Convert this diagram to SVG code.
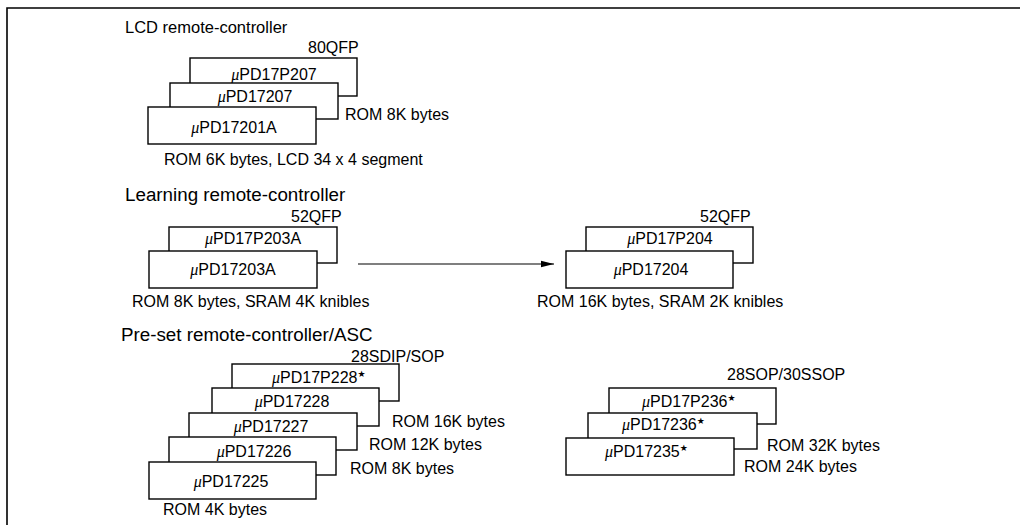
<svg xmlns="http://www.w3.org/2000/svg" width="1020" height="525" viewBox="0 0 1020 525">
<defs>
<style>
text{font-family:"Liberation Sans",Arial,sans-serif;font-size:16px;fill:#000}
.t{font-size:18.8px}
.lbl{text-anchor:middle}
.mu{font-family:"Liberation Serif","DejaVu Serif",serif;font-style:italic}
.st{font-family:"DejaVu Sans",sans-serif;font-size:9px}
.box{fill:#fff;stroke:#000;stroke-width:1.4}
.frame{fill:none;stroke:#000;stroke-width:1.6}
.conn{stroke:#000;stroke-width:1.1;fill:none}
</style>
<marker id="ah" markerWidth="14" markerHeight="8" refX="13" refY="4" orient="auto" markerUnits="userSpaceOnUse">
<path d="M0,0.8 L13,4 L0,7.2 Z" fill="#000"/>
</marker>
</defs>
<rect width="1020" height="525" fill="#fff"/>
<polyline class="frame" points="7,525 7,8 1020,8"/>

<g id="lcd-group">
<text x="125" y="33" style="font-size:16.5px">LCD remote-controller</text>
<text x="308" y="53">80QFP</text>
<g id="n-17P207"><rect class="box" x="190" y="58" width="167" height="38"/><text class="lbl" x="274" y="80"><tspan class="mu">μ</tspan>PD17P207</text></g>
<g id="n-17207"><rect class="box" x="170" y="83" width="168" height="36"/><text class="lbl" x="255" y="102"><tspan class="mu">μ</tspan>PD17207</text></g>
<g id="n-17201A"><rect class="box" x="148" y="107" width="168" height="37"/><text class="lbl" x="234" y="133"><tspan class="mu">μ</tspan>PD17201A</text></g>
<text x="345" y="120">ROM 8K bytes</text>
<text x="164" y="165">ROM 6K bytes, LCD 34 x 4 segment</text>
</g>

<g id="learning-group">
<text class="t" x="125" y="201">Learning remote-controller</text>
<text x="291" y="222">52QFP</text>
<g id="n-17P203A"><rect class="box" x="169" y="227" width="168" height="36"/><text class="lbl" x="253" y="244"><tspan class="mu">μ</tspan>PD17P203A</text></g>
<g id="n-17203A"><rect class="box" x="149" y="251" width="168" height="37"/><text class="lbl" x="233" y="275"><tspan class="mu">μ</tspan>PD17203A</text></g>
<text x="132" y="307">ROM 8K bytes, SRAM 4K knibles</text>
<text x="700" y="222">52QFP</text>
<g id="n-17P204"><rect class="box" x="586" y="227" width="167" height="36"/><text class="lbl" x="670" y="244"><tspan class="mu">μ</tspan>PD17P204</text></g>
<g id="n-17204"><rect class="box" x="566" y="251" width="167" height="37"/><text class="lbl" x="651" y="275"><tspan class="mu">μ</tspan>PD17204</text></g>
<text x="537" y="307">ROM 16K bytes, SRAM 2K knibles</text>
</g>

<g id="connectors">
<line class="conn" x1="358" y1="264" x2="554" y2="264" marker-end="url(#ah)"/>
</g>

<g id="preset-group">
<text class="t" x="121" y="341">Pre-set remote-controller/ASC</text>
<text x="351" y="362">28SDIP/SOP</text>
<g id="n-17P228"><rect class="box" x="232" y="364" width="167" height="37"/><text x="272" y="383"><tspan class="mu">μ</tspan>PD17P228<tspan class="st" dx="0" dy="-6">★</tspan></text></g>
<g id="n-17228"><rect class="box" x="212" y="388" width="167" height="38"/><text class="lbl" x="292" y="407"><tspan class="mu">μ</tspan>PD17228</text></g>
<g id="n-17227"><rect class="box" x="189" y="413" width="168" height="37"/><text class="lbl" x="271" y="432"><tspan class="mu">μ</tspan>PD17227</text></g>
<g id="n-17226"><rect class="box" x="169" y="437" width="167" height="38"/><text class="lbl" x="254" y="457"><tspan class="mu">μ</tspan>PD17226</text></g>
<g id="n-17225"><rect class="box" x="149" y="462" width="167" height="37"/><text class="lbl" x="231" y="487"><tspan class="mu">μ</tspan>PD17225</text></g>
<text x="392" y="427">ROM 16K bytes</text>
<text x="369" y="450">ROM 12K bytes</text>
<text x="350" y="474">ROM 8K bytes</text>
<text x="163" y="515">ROM 4K bytes</text>

<text x="727" y="380">28SOP/30SSOP</text>
<g id="n-17P236"><rect class="box" x="609" y="388" width="167" height="36"/><text x="642" y="407"><tspan class="mu">μ</tspan>PD17P236<tspan class="st" dx="0" dy="-6">★</tspan></text></g>
<g id="n-17236"><rect class="box" x="588" y="413" width="169" height="36"/><text x="622" y="430"><tspan class="mu">μ</tspan>PD17236<tspan class="st" dx="0" dy="-6">★</tspan></text></g>
<g id="n-17235"><rect class="box" x="566" y="438" width="168" height="37"/><text x="605" y="457"><tspan class="mu">μ</tspan>PD17235<tspan class="st" dx="0" dy="-6">★</tspan></text></g>
<text x="767" y="451">ROM 32K bytes</text>
<text x="744" y="472">ROM 24K bytes</text>
</g>
</svg>
